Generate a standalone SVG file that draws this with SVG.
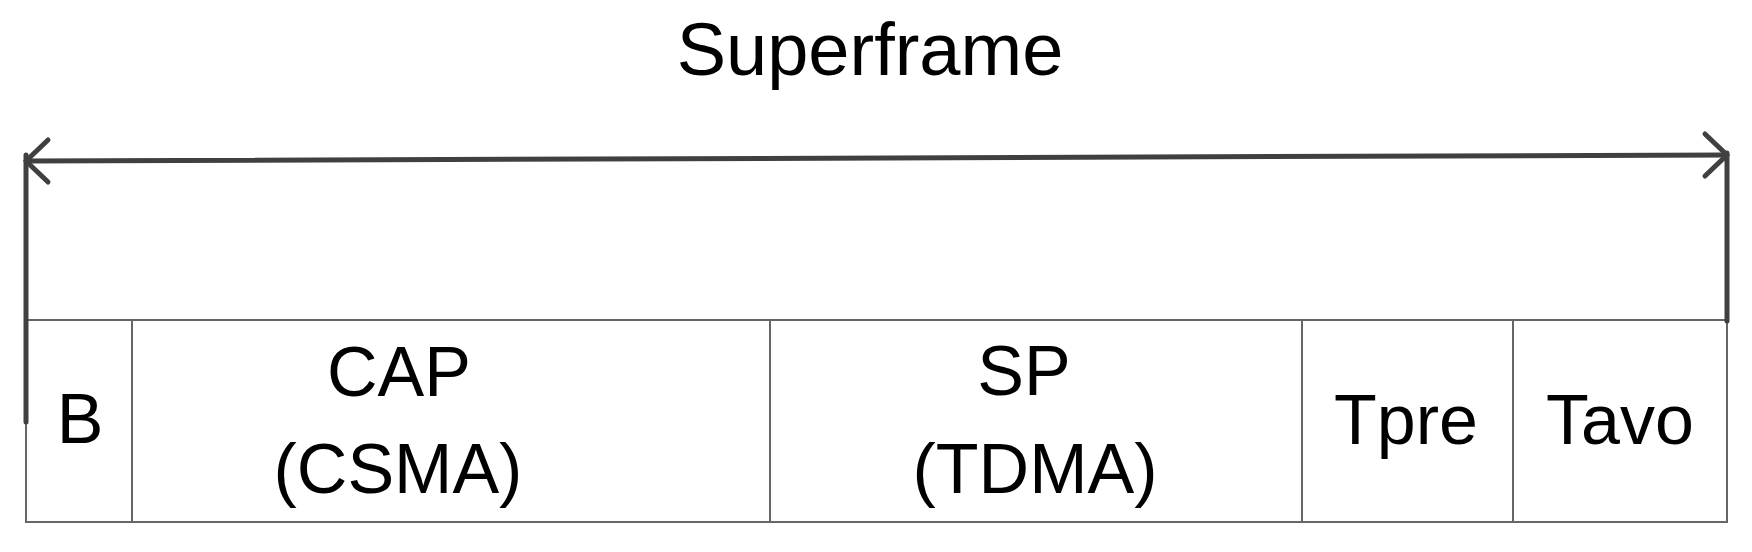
<svg xmlns="http://www.w3.org/2000/svg" width="1752" height="552" viewBox="0 0 1752 552">
  <style>
    .lbl { font-family: "Liberation Sans", Arial, sans-serif; font-size: 70px; fill: #000; text-anchor: middle; }
    .title { font-size: 74px; }
    .cell { fill: #fff; stroke: #666; stroke-width: 2; }
    .thick { fill: none; stroke: #404040; stroke-width: 5; stroke-linecap: round; stroke-linejoin: round; }
  </style>
  <rect width="1752" height="552" fill="#fff"/>
  <g id="title">
    <text class="lbl title" x="870" y="75">Superframe</text>
  </g>
  <g id="B">
    <rect class="cell" x="26" y="320" width="106" height="202"/>
    <text class="lbl" x="80" y="443">B</text>
  </g>
  <g id="CAP">
    <rect class="cell" x="132" y="320" width="638" height="202"/>
    <text class="lbl" x="399" y="396">CAP</text>
    <text class="lbl" x="398" y="493">(CSMA)</text>
  </g>
  <g id="SP">
    <rect class="cell" x="770" y="320" width="532" height="202"/>
    <text class="lbl" x="1024" y="395">SP</text>
    <text class="lbl" x="1035" y="493">(TDMA)</text>
  </g>
  <g id="Tpre">
    <rect class="cell" x="1302" y="320" width="211" height="202"/>
    <text class="lbl" x="1406" y="444">Tpre</text>
  </g>
  <g id="Tavo">
    <rect class="cell" x="1513" y="320" width="214" height="202"/>
    <text class="lbl" x="1620" y="444">Tavo</text>
  </g>
  <g id="connectors">
    <line class="thick" x1="26" y1="155" x2="26" y2="422"/>
    <line class="thick" x1="1727" y1="153" x2="1727" y2="321"/>
    <line class="thick" x1="26" y1="161" x2="1727" y2="155"/>
    <polyline class="thick" points="48,140 26,161 48,182"/>
    <polyline class="thick" points="1705,134 1727,155 1705,176"/>
  </g>
</svg>
